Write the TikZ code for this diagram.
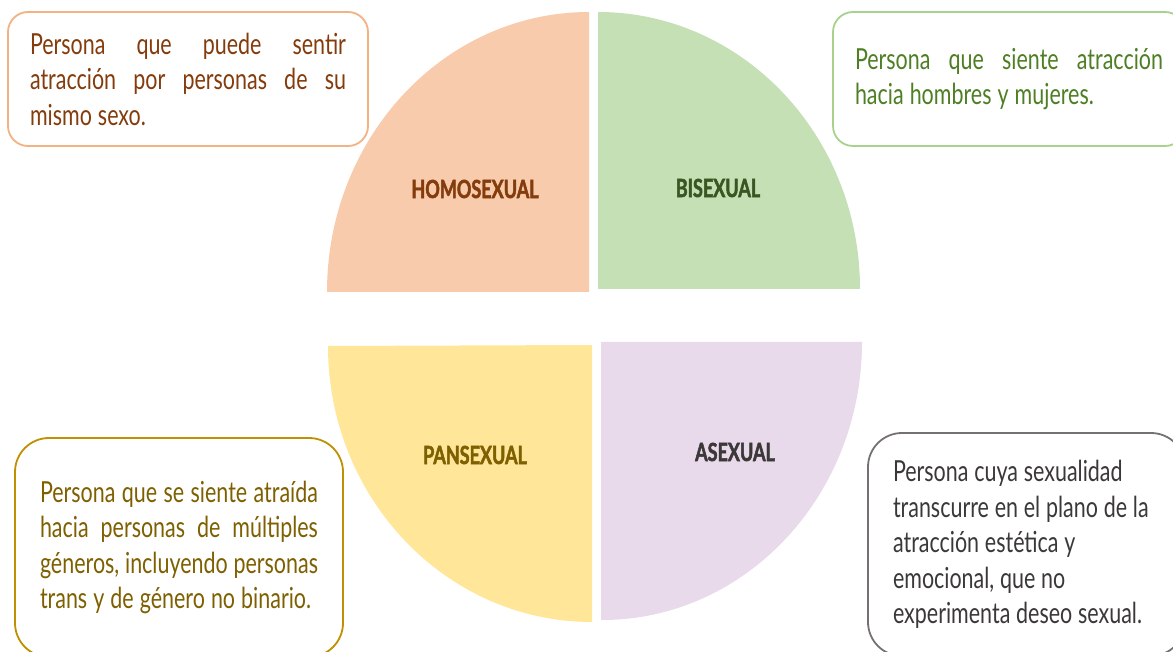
\documentclass[tikz,border=0pt]{standalone}
\usepackage{fontspec}
\setmainfont{Lato}[FakeStretch=0.74, WordSpace=1.1]
\newfontfamily\labelfont{Lato}[FakeStretch=0.72, BoldFeatures={FakeBold=1.9}]
\definecolor{homofill}{HTML}{F8CBAD}
\definecolor{homoline}{HTML}{F4B183}
\definecolor{homotext}{HTML}{843C0C}
\definecolor{bifill}{HTML}{C5E0B4}
\definecolor{biline}{HTML}{A9D18E}
\definecolor{bitext}{HTML}{4E7F24}
\definecolor{bilabel}{HTML}{385723}
\definecolor{panfill}{HTML}{FFE699}
\definecolor{panline}{HTML}{BF9000}
\definecolor{pantext}{HTML}{7F6000}
\definecolor{asefill}{HTML}{E8D9EB}
\definecolor{aseline}{HTML}{767171}
\definecolor{asetext}{HTML}{3B3838}
\newcommand{\jline}[1]{\makebox[\hsize][s]{#1}\\}

\begin{document}
\begin{tikzpicture}[x=1pt, y=-1pt,
		desc/.style={draw, line width=1.8pt, fill=white, inner sep=0pt, align=justify, font=\fontsize{29}{35.5}\selectfont},
		sexlabel/.style={font=\fontsize{25}{30}\labelfont\bfseries}]
	\useasboundingbox (0,0) rectangle (1173,652);
	\clip (0,0) rectangle (1173,652);
	
	\fill [homofill] (589,292) -- (589,12) arc[start angle=-90, end angle=-180, x radius=262, y radius=280] -- cycle;
	\fill [bifill] (598,289) -- (598,12) arc[start angle=-90, end angle=0, x radius=262, y radius=277] -- cycle;
	\fill [panfill] (592,345) -- (328,346) arc[start angle=180, end angle=90, x radius=264, y radius=276] -- cycle;
	\fill [asefill] (601,620) -- (601,342) -- (862,342) arc[start angle=0, end angle=90, x radius=260, y radius=278] -- cycle;
	
	\node (homo) [sexlabel, text=homotext] at (475,189) {HOMOSEXUAL};
	\node (bi) [sexlabel, text=bilabel] at (718,188) {BISEXUAL};
	\node (pan) [sexlabel, text=pantext] at (475,455) {PANSEXUAL};
	\node (ase) [sexlabel, text=asetext] at (735,452) {ASEXUAL};
	
	\node (homodesc) [desc, draw=homoline, text=homotext, rounded corners=20pt, minimum width=360pt, minimum height=134pt, text width=316pt] at (188,79)
		{\jline{Persona que puede sentir}\jline{atracción por personas de su}mismo sexo.};
	\node (bidesc) [desc, draw=biline, text=bitext, rounded corners=20pt, minimum width=352pt, minimum height=134pt, text width=308pt] at (1009,79)
		{\jline{Persona que siente atracción}hacia hombres y mujeres.};
	\node (pandesc) [desc, draw=panline, text=pantext, rounded corners=34pt, minimum width=328pt, minimum height=219pt, text width=278pt] at (179,547.5)
		{\jline{Persona que se siente atraída}\jline{hacia personas de múltiples}\jline{géneros, incluyendo personas}trans y de género no binario.};
	\node (asedesc) [desc, draw=aseline, text=asetext, rounded corners=34pt, minimum width=317pt, minimum height=223pt, text width=267pt, align=left] at (1026.5,544.5)
		{\spaceskip=0.2em\relax Persona cuya sexualidad\\transcurre en el plano de la\\atracción estética y\\emocional, que no\\experimenta deseo sexual.};
\end{tikzpicture}
\end{document}
